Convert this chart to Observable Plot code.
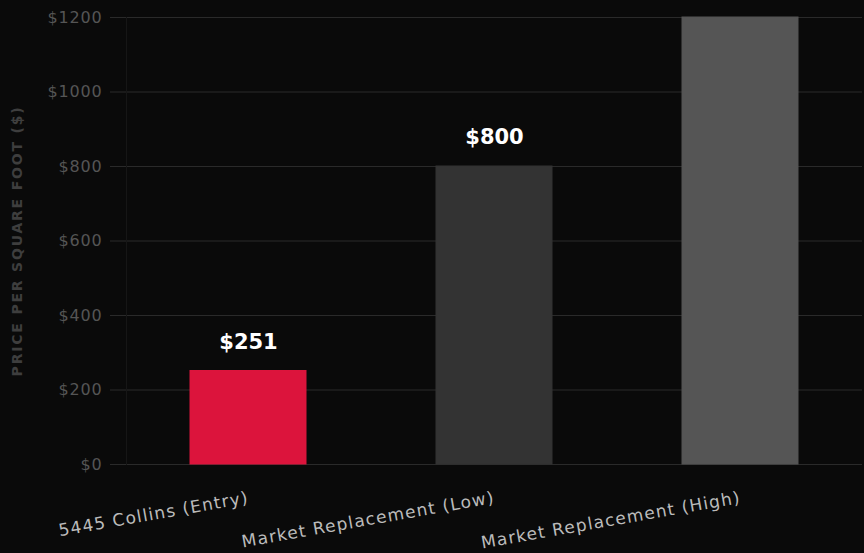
<!DOCTYPE html>
<html>
<head>
<meta charset="utf-8">
<script src="https://cdn.jsdelivr.net/npm/d3@7"></script>
<script src="https://cdn.jsdelivr.net/npm/@observablehq/plot@0.6"></script>
<style>
  html, body { margin: 0; padding: 0; background: #0a0a0a; }
  #chart { width: 864px; height: 553px; overflow: hidden; }
</style>
</head>
<body>
<div id="chart"></div>
<script>
const categories = ["5445 Collins (Entry)", "Market Replacement (Low)", "Market Replacement (High)"];
const values = [251, 800, 1200];
const barColors = ["#dc143c", "#333333", "#555555"];
const yTicks = [0, 200, 400, 600, 800, 1000, 1200];
const yTitle = "PRICE PER SQUARE FOOT ($)";

const data = categories.map((c, i) => ({category: c, value: values[i], color: barColors[i]}));

const chart = Plot.plot({
  width: 864,
  height: 553,
  marginTop: 17,
  marginBottom: 89,
  marginLeft: 126,
  marginRight: 2,
  style: {background: "#0a0a0a", fontFamily: "'DejaVu Sans', sans-serif", overflow: "hidden"},
  x: {domain: categories, paddingInner: 0.53, paddingOuter: 0.26, label: null},
  y: {domain: [0, 1200], label: null},
  marks: [
    Plot.gridY(yTicks, {stroke: "#2a2a2a", strokeOpacity: 1, strokeWidth: 1}),
    Plot.frame({anchor: "left", stroke: "#161616"}),
    Plot.axisY(yTicks, {
      tickSize: 16, tickPadding: 8, stroke: "#2a2a2a",
      tickFormat: d => "$" + d, fill: "#555555", fontSize: 16, label: null
    }),
    Plot.barY(data, {x: "category", y: "value", fill: "color", stroke: "color", strokeWidth: 1}),
    Plot.text(data, {
      x: "category", y: "value", text: d => "$" + d.value, dy: -29,
      fill: "#ffffff", fontSize: 21, fontWeight: "bold", lineAnchor: "middle"
    }),
    Plot.axisX({
      tickSize: 0, tickPadding: 33, tickRotate: -10, fill: "#bbbbbb", fontSize: 17, label: null
    }),
    Plot.text([yTitle], {
      frameAnchor: "left", textAnchor: "middle", dx: -109, rotate: -90, fill: "#3e3e3e",
      fontSize: 14, fontWeight: "bold", text: d => d
    })
  ]
});
const svg = d3.select(chart);
svg.selectAll("g[aria-label='y-axis tick label'] text").style("letter-spacing", "0.8px");
svg.selectAll("g[aria-label='x-axis tick label'] text").style("letter-spacing", "1.2px");
svg.selectAll("text").filter(function() { return this.textContent === yTitle; }).style("letter-spacing", "1.8px");
document.getElementById("chart").appendChild(chart);
</script>
</body>
</html>
